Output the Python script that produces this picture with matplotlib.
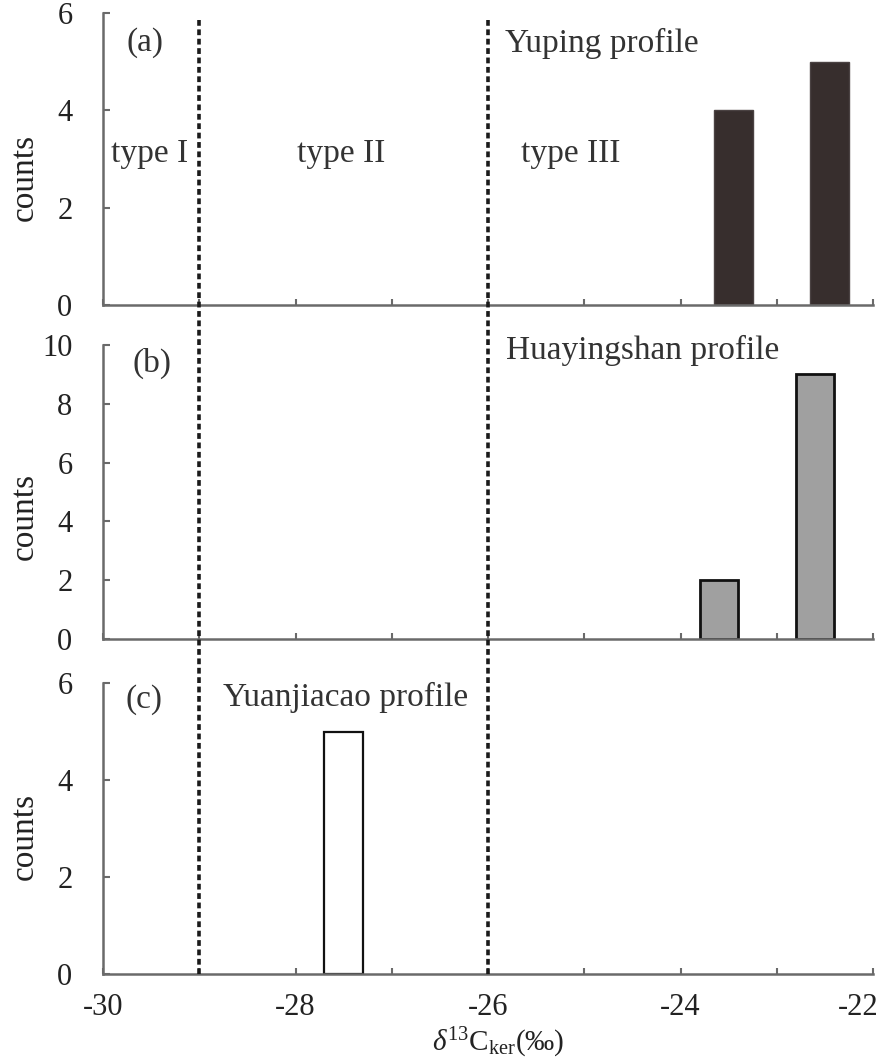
import numpy as np
import matplotlib
matplotlib.use("Agg")
import matplotlib.pyplot as plt
from matplotlib.lines import Line2D
from matplotlib.transforms import blended_transform_factory, ScaledTranslation

plt.rcParams['font.family'] = ['Liberation Serif', 'DejaVu Serif']
plt.rcParams['mathtext.fontset'] = 'custom'
plt.rcParams['mathtext.rm'] = 'Liberation Serif'
plt.rcParams['mathtext.it'] = 'Liberation Serif:italic'
plt.rcParams['axes.unicode_minus'] = False

# counts per d13C bin for each profile
yuping_x = [-23.45, -22.45]
yuping_n = [4, 5]
huaying_x = [-23.6, -22.6]
huaying_n = [2, 9]
yuanjia_x = [-27.5]
yuanjia_n = [5]

type_bounds = [-29, -26]
xticks_major = [-30, -28, -26, -24, -22]
xticks_minor = [-29, -27, -25, -23]

fig = plt.figure(figsize=(8.83, 10.58), dpi=100)
L, W = 103 / 883, 770 / 883
H = 1058
ax_a = fig.add_axes([L, 1 - 305 / H, W, 292 / H])
ax_b = fig.add_axes([L, 1 - 639 / H, W, 294 / H])
ax_c = fig.add_axes([L, 1 - 974 / H, W, 291 / H])

spine_col = '#6a6a6a'


def style(ax, ymax, ystep, label_y, show_x):
    ax.set_xlim(-30, -22)
    ax.set_ylim(0, ymax)
    for s in ['top', 'right']:
        ax.spines[s].set_visible(False)
    for s in ['left', 'bottom']:
        ax.spines[s].set_color(spine_col)
        ax.spines[s].set_linewidth(1.8)
    ax.set_xticks(xticks_major)
    ax.set_xticks(xticks_minor, minor=True)
    ax.set_yticks(np.arange(0, ymax + 1, ystep))
    ax.tick_params(axis='both', which='both', direction='in', color=spine_col,
                   width=1.5, labelsize=22, labelcolor='#222222')
    ax.tick_params(axis='x', which='major', length=4, pad=14)
    ax.tick_params(axis='x', which='minor', length=4)
    ax.tick_params(axis='y', length=5, pad=22)
    if not show_x:
        ax.tick_params(axis='x', labelbottom=False)
    ax.set_ylabel('counts', fontsize=24, color='#222222')
    ax.yaxis.set_label_coords(-0.082, label_y)
    ax.set_facecolor('none')


style(ax_a, 6, 2, 0.438, False)
style(ax_b, 10, 2, 0.418, False)
style(ax_c, 6, 2, 0.474, True)

# last x label sits left of its tick, as in the original
fig.canvas.draw()
last = ax_c.get_xticklabels()[-1]
last.set_transform(last.get_transform() + ScaledTranslation(-15 / 100, 0, fig.dpi_scale_trans))

ax_a.bar(yuping_x, yuping_n, width=0.4, color='#372e2d', edgecolor='#4a4242', linewidth=1.0)
ax_b.bar(huaying_x, huaying_n, width=0.4, color='#a0a0a0', edgecolor='#111111', linewidth=2.0)
ax_c.bar(yuanjia_x, yuanjia_n, width=0.4, color='white', edgecolor='#111111', linewidth=1.6)

txt = dict(fontsize=24, color='#333333', va='center')
ax_a.text(-29.56, 5.40, '(a)', ha='center', **txt)
ax_a.text(-25.82, 5.38, 'Yuping profile', ha='left', **txt)
ax_a.text(-29.92, 3.10, 'type I', ha='left', **txt)
ax_a.text(-27.98, 3.10, 'type II', ha='left', **txt)
ax_a.text(-25.66, 3.10, 'type III', ha='left', **txt)
ax_b.text(-29.49, 9.39, '(b)', ha='center', **txt)
ax_b.text(-25.81, 9.83, 'Huayingshan profile', ha='left', **txt)
ax_c.text(-29.57, 5.65, '(c)', ha='center', **txt)
ax_c.text(-28.75, 5.71, 'Yuanjiacao profile', ha='left', **txt)

ax_c.set_xlabel(r'$\delta^{13}$C$_{\rm ker}$(‰)', fontsize=21, color='#222222')
ax_c.xaxis.set_label_coords(0.513, -0.178)

# type boundaries run through all three panels
tr = blended_transform_factory(ax_c.transData, fig.transFigure)
for xb in type_bounds:
    fig.add_artist(Line2D([xb, xb], [1 - 20 / H, 1 - 975 / H], transform=tr,
                          color='#1a1a1a', linewidth=2.6, linestyle=(0, (1.6, 1.0))))

fig.savefig('out.png', dpi=100)
